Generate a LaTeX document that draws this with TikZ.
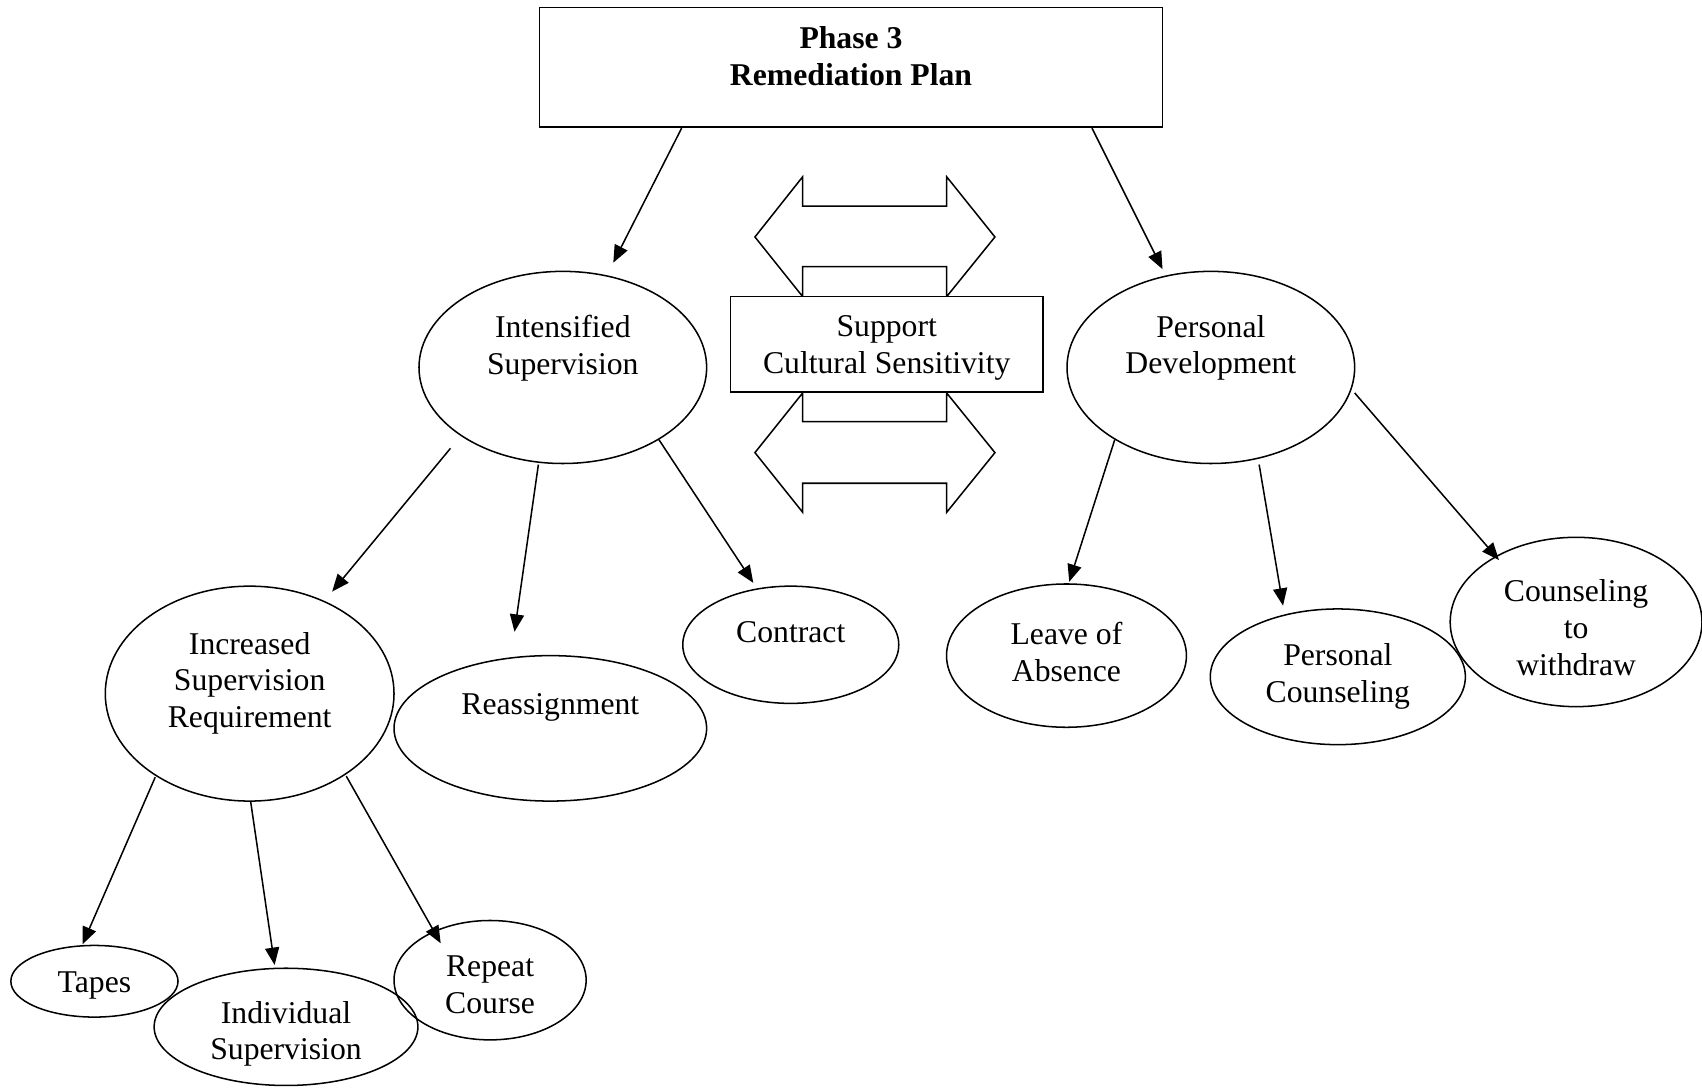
\documentclass[tikz,border=0pt]{standalone}
\usepackage{fontspec}
\setmainfont{Liberation Serif}
\usetikzlibrary{shapes.geometric,arrows.meta}
\tikzset{
  ell/.style={draw,ellipse,line width=0.7pt,inner sep=0pt},
  txt/.style={align=center,inner sep=0pt,yshift=-1.25pt,font=\fontsize{14.6pt}{17pt}\selectfont},
  boxnode/.style={draw,rectangle,line width=0.7pt,inner sep=0pt,fill=white},
  arr/.style={-{Triangle[length=8pt,width=6.5pt]},line width=0.7pt},
  dbl/.style={draw,line width=0.7pt,fill=white,line join=miter}
}
\begin{document}
\begin{tikzpicture}[x=0.5pt,y=-0.5pt]
\useasboundingbox (0,0) rectangle (1568,1002.3);
% top box
\node[boxnode,minimum width=287pt,minimum height=55pt] (top) at (784,62) {};
\node[txt,font=\fontsize{14.6pt}{17pt}\selectfont\bfseries] (topT) at (784,49.5) {Phase 3\\Remediation Plan};
% double arrows
\draw[dbl] (695.5,218.3) -- (739.5,162.8) -- (739.5,189.8) -- (872.1,189.8) -- (872.1,162.8) -- (916.6,218.3) -- (872.1,273.3) -- (872.1,245.7) -- (739.5,245.7) -- (739.5,273.3) -- cycle;
\draw[dbl] (695.5,417) -- (739.5,362) -- (739.5,388.5) -- (872.1,388.5) -- (872.1,362) -- (916.6,417) -- (872.1,472) -- (872.1,445.2) -- (739.5,445.2) -- (739.5,472) -- cycle;
\node[boxnode,minimum width=143.75pt,minimum height=43.8pt] (sup) at (816.9,317.1) {};
\node[txt] (supT) at (816.9,318) {Support\\Cultural Sensitivity};
% ellipses
\node[ell,minimum width=132.5pt,minimum height=88.5pt] (is) at (518.5,338.5) {};
\node[txt] (isT) at (518.5,318) {Intensified\\Supervision};
\node[ell,minimum width=132.5pt,minimum height=88.5pt] (pd) at (1115.5,338.5) {};
\node[txt] (pdT) at (1115.5,318) {Personal\\Development};
\node[ell,minimum width=133pt,minimum height=99pt] (isr) at (230,639) {};
\node[txt] (isrT) at (230,627) {Increased\\Supervision\\Requirement};
\node[ell,minimum width=144pt,minimum height=67pt] (ra) at (507,671) {};
\node[txt] (raT) at (507,649) {Reassignment};
\node[ell,minimum width=99.5pt,minimum height=54pt] (ct) at (728.5,594) {};
\node[txt] (ctT) at (728.5,580) {Contract};
\node[ell,minimum width=110.5pt,minimum height=66pt] (la) at (982.5,604) {};
\node[txt] (laT) at (982.5,598) {Leave of\\Absence};
\node[ell,minimum width=117.5pt,minimum height=62.5pt] (pc) at (1232.5,623.5) {};
\node[txt] (pcT) at (1232.5,620.5) {Personal\\Counseling};
\node[ell,minimum width=116pt,minimum height=78pt] (cw) at (1452,573) {};
\node[txt] (cwT) at (1452,576) {Counseling\\to\\withdraw};
\node[ell,minimum width=77pt,minimum height=33pt] (tp) at (87,904) {};
\node[txt] (tpT) at (87,905) {Tapes};
\node[ell,minimum width=121.5pt,minimum height=54pt] (ind) at (263.5,946) {};
\node[txt] (indT) at (263.5,950) {Individual\\Supervision};
\node[ell,minimum width=88.5pt,minimum height=55pt] (rc) at (451.5,903) {};
\node[txt] (rcT) at (451.5,905) {Repeat\\Course};
% connector end points
\coordinate (a1s) at (628,118);   \coordinate (a1e) at (565,242);
\coordinate (a2s) at (1006,118);  \coordinate (a2e) at (1071,248);
\coordinate (a3s) at (415,413);   \coordinate (a3e) at (306,545);
\coordinate (a4s) at (496,428);   \coordinate (a4e) at (474,582);
\coordinate (a5s) at (607,405);   \coordinate (a5e) at (694,537);
\coordinate (a6s) at (143,716);   \coordinate (a6e) at (76,870);
\coordinate (a7s) at (231,739);   \coordinate (a7e) at (253,889);
\coordinate (a8s) at (319,715);   \coordinate (a8e) at (406,869);
\coordinate (a9s) at (1027,405);  \coordinate (a9e) at (985,536);
\coordinate (a10s) at (1160,428); \coordinate (a10e) at (1182,558);
\coordinate (a11s) at (1248,362); \coordinate (a11e) at (1381,516);
\draw[arr] (a1s) -- (a1e);
\draw[arr] (a2s) -- (a2e);
\draw[arr] (a3s) -- (a3e);
\draw[arr] (a4s) -- (a4e);
\draw[arr] (a5s) -- (a5e);
\draw[arr] (a6s) -- (a6e);
\draw[arr] (a7s) -- (a7e);
\draw[arr] (a8s) -- (a8e);
\draw[arr] (a9s) -- (a9e);
\draw[arr] (a10s) -- (a10e);
\draw[arr] (a11s) -- (a11e);
\end{tikzpicture}
\end{document}
